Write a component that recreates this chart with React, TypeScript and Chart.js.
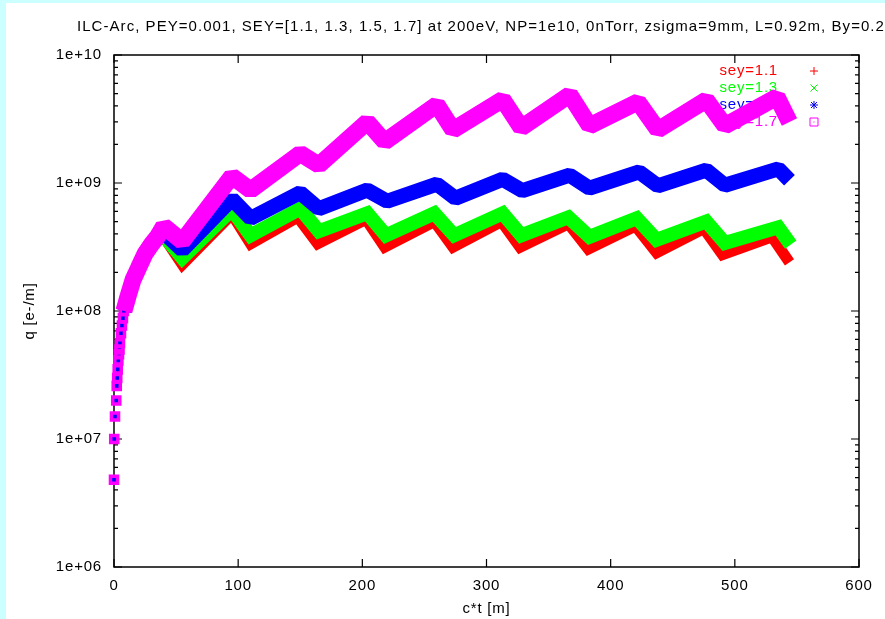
import React, { useEffect, useRef } from 'react';
import { Chart, registerables } from 'chart.js';

Chart.register(...registerables);

const TITLE = 'ILC-Arc, PEY=0.001, SEY=[1.1, 1.3, 1.5, 1.7] at 200eV, NP=1e10, 0nTorr, zsigma=9mm, L=0.92m, By=0.2';
const X_LABEL = 'c*t [m]';
const Y_LABEL = 'q [e-/m]';

const xTicks = [0, 100, 200, 300, 400, 500, 600];
const xTickLabels = ['0', '100', '200', '300', '400', '500', '600'];
const yTicks = [1e6, 1e7, 1e8, 1e9, 1e10];
const yTickLabels = ['1e+06', '1e+07', '1e+08', '1e+09', '1e+10'];

const seriesNames = ['sey=1.1', 'sey=1.3', 'sey=1.5', 'sey=1.7'];
const seriesColors = ['#ff0000', '#00ff00', '#0000ff', '#ff00ff'];

// shared build-up at the start (discrete markers up to markerUntil)
const markerUntil = 8;
const rampX = [0, 0.2, 0.8, 1.8, 2.2, 2.6, 3.0, 3.5, 4.0, 4.4, 4.8, 5.6, 6.4, 7.2, 8.0, 11.3, 15.3, 20, 25, 30, 35];
const rampQ = [4.8e6, 1.0e7, 1.5e7, 2.0e7, 2.6e7, 3.0e7, 3.5e7, 4.1e7, 4.6e7, 5.0e7, 5.6e7, 6.7e7, 7.7e7, 8.8e7, 1.0e8, 1.3e8, 1.75e8, 2.2e8, 2.8e8, 3.3e8, 3.8e8];

// sey = 1.1
const sey11X = [40, 55, 95, 110, 148, 164, 203, 218, 258, 273, 312, 327, 366, 382, 420, 437, 475, 490, 530, 544];
const sey11Q = [3.8e8, 2.3e8, 5.7e8, 3.35e8, 5.4e8, 3.35e8, 5.2e8, 3.15e8, 5.0e8, 3.15e8, 5.0e8, 3.15e8, 4.8e8, 3.05e8, 4.6e8, 2.85e8, 4.4e8, 2.75e8, 3.8e8, 2.4e8];
// sey = 1.3
const sey13X = [40, 55, 95, 110, 150, 165, 204, 219, 258, 274, 313, 328, 366, 383, 421, 437, 477, 492, 535, 545];
const sey13Q = [3.9e8, 2.6e8, 6.2e8, 3.9e8, 6.3e8, 4.2e8, 5.8e8, 3.9e8, 5.8e8, 3.9e8, 5.8e8, 3.9e8, 5.4e8, 3.8e8, 5.3e8, 3.6e8, 5.0e8, 3.4e8, 4.5e8, 3.3e8];
// sey = 1.5
const sey15X = [40, 55, 95, 110, 150, 165, 204, 220, 260, 275, 313, 329, 367, 383, 423, 438, 477, 492, 535, 544];
const sey15Q = [4.1e8, 3.0e8, 7.5e8, 5.3e8, 8.4e8, 6.3e8, 8.8e8, 7.2e8, 9.8e8, 7.6e8, 1.07e9, 8.7e8, 1.15e9, 9.1e8, 1.22e9, 9.5e8, 1.26e9, 9.6e8, 1.29e9, 1.05e9];
// sey = 1.7
const sey17X = [40, 55, 95, 110, 150, 165, 204, 218, 260, 273, 313, 328, 367, 383, 422, 438, 477, 492, 534, 544];
const sey17Q = [4.6e8, 3.5e8, 1.13e9, 8.8e8, 1.7e9, 1.38e9, 3.0e9, 2.1e9, 4.1e9, 2.6e9, 4.5e9, 2.7e9, 4.9e9, 2.8e9, 4.3e9, 2.6e9, 4.45e9, 2.8e9, 4.7e9, 3.0e9];

const seriesX = [sey11X, sey13X, sey15X, sey17X];
const seriesQ = [sey11Q, sey13Q, sey15Q, sey17Q];
const lineWidths = [11, 14, 15, 17];
const joins: any[] = ['miter', 'miter', 'bevel', 'bevel'];
const pointStyles: any[] = ['cross', 'crossRot', 'star', 'rect'];
const pointRadii = [4, 4, 3.5, 5];
const pointBorders = [1.5, 1.5, 1.5, 3.5];

const FONT = '"Liberation Sans", Arial, Helvetica, sans-serif';

function buildData(i: number) {
  const pts: { x: number; y: number }[] = [];
  rampX.forEach((x, k) => pts.push({ x, y: rampQ[k] }));
  seriesX[i].forEach((x, k) => pts.push({ x, y: seriesQ[i][k] }));
  return pts;
}

const gnuplotPlugin = {
  id: 'gnuplotLook',
  beforeDraw(chart: any) {
    chart.ctx.letterSpacing = '0.8px';
  },
  beforeDatasetsDraw(chart: any) {
    const ctx = chart.ctx;
    const ca = chart.chartArea;
    const xs = chart.scales.x;
    const ys = chart.scales.y;
    ctx.save();
    ctx.fillStyle = '#000';
    ctx.font = `15px ${FONT}`;
    // title
    ctx.letterSpacing = '1.05px';
    ctx.textAlign = 'left';
    ctx.textBaseline = 'middle';
    ctx.fillText(TITLE, 71, 24);
    ctx.letterSpacing = '0.8px';
    // x title
    ctx.textAlign = 'center';
    ctx.fillText(X_LABEL, (ca.left + ca.right) / 2, 606);
    // y title
    ctx.save();
    ctx.translate(24, (ca.top + ca.bottom) / 2);
    ctx.rotate(-Math.PI / 2);
    ctx.fillText(Y_LABEL, 0, 0);
    ctx.restore();

    // frame
    ctx.strokeStyle = '#000';
    ctx.lineWidth = 1.5;
    ctx.strokeRect(ca.left, ca.top, ca.right - ca.left, ca.bottom - ca.top);
    ctx.lineWidth = 1.2;
    ctx.beginPath();
    xTicks.forEach((v) => {
      const px = xs.getPixelForValue(v);
      ctx.moveTo(px, ca.bottom);
      ctx.lineTo(px, ca.bottom - 8);
      ctx.moveTo(px, ca.top);
      ctx.lineTo(px, ca.top + 8);
    });
    yTicks.forEach((v) => {
      const py = ys.getPixelForValue(v);
      ctx.moveTo(ca.left, py);
      ctx.lineTo(ca.left + 8, py);
      ctx.moveTo(ca.right, py);
      ctx.lineTo(ca.right - 8, py);
    });
    for (let d = 0; d < yTicks.length - 1; d++) {
      for (let m = 2; m <= 9; m++) {
        const py = ys.getPixelForValue(yTicks[d] * m);
        ctx.moveTo(ca.left, py);
        ctx.lineTo(ca.left + 4, py);
        ctx.moveTo(ca.right, py);
        ctx.lineTo(ca.right - 4, py);
      }
    }
    ctx.stroke();

    // legend (drawn under the data, like gnuplot)
    const textRight = 772;
    const symX = 808;
    const rowY = [68, 85, 102, 119];
    ctx.textAlign = 'right';
    seriesNames.forEach((name, i) => {
      ctx.fillStyle = seriesColors[i];
      ctx.fillText(name, textRight, rowY[i]);
      ctx.strokeStyle = seriesColors[i];
      ctx.lineWidth = 1;
      const y = rowY[i];
      const s = 4;
      ctx.beginPath();
      if (i === 0 || i === 2) {
        ctx.moveTo(symX - s, y); ctx.lineTo(symX + s, y);
        ctx.moveTo(symX, y - s); ctx.lineTo(symX, y + s);
      }
      if (i === 1 || i === 2) {
        const t = i === 2 ? 3 : 3.5;
        ctx.moveTo(symX - t, y - t); ctx.lineTo(symX + t, y + t);
        ctx.moveTo(symX - t, y + t); ctx.lineTo(symX + t, y - t);
      }
      if (i === 3) {
        ctx.rect(symX - 4, y - 4, 8, 8);
        ctx.moveTo(symX - 0.5, y); ctx.lineTo(symX + 0.5, y);
      }
      ctx.stroke();
    });
    ctx.restore();
  },
};

export default function App() {
  const canvasRef = useRef<HTMLCanvasElement | null>(null);

  useEffect(() => {
    document.body.style.margin = '0';
    const canvas = canvasRef.current;
    if (!canvas) return;
    Chart.defaults.font.family = FONT;
    Chart.defaults.font.size = 15;
    Chart.defaults.color = '#000';

    const datasets = seriesNames.map((name, i) => ({
      label: name,
      data: buildData(i),
      order: seriesNames.length - i, // later series drawn on top, as in gnuplot
      showLine: true,
      borderColor: seriesColors[i],
      backgroundColor: 'rgba(0,0,0,0)',
      borderWidth: lineWidths[i],
      borderJoinStyle: joins[i],
      borderCapStyle: 'butt',
      pointStyle: pointStyles[i],
      pointBorderColor: seriesColors[i],
      pointBackgroundColor: 'rgba(0,0,0,0)',
      pointBorderWidth: pointBorders[i],
      pointRadius: (c: any) => (c.raw && c.raw.x <= markerUntil ? pointRadii[i] : 0),
      pointHoverRadius: 0,
      tension: 0,
      clip: false as any,
      segment: {
        borderColor: (c: any) => (c.p1.parsed.x <= markerUntil ? 'rgba(0,0,0,0)' : undefined),
      },
    }));

    const chart = new Chart(canvas, {
      type: 'scatter',
      data: { datasets: datasets as any },
      options: {
        animation: false,
        responsive: false,
        devicePixelRatio: 1,
        events: [],
        layout: { padding: { left: 0, right: 26, top: 52, bottom: 0 } },
        plugins: { legend: { display: false }, tooltip: { enabled: false }, title: { display: false } },
        scales: {
          x: {
            type: 'linear',
            min: 0,
            max: 600,
            grid: { display: false, drawTicks: false },
            border: { display: false },
            afterBuildTicks: (s: any) => { s.ticks = xTicks.map((v) => ({ value: v })); },
            afterFit: (s: any) => { s.height = 52; },
            ticks: {
              autoSkip: false,
              maxRotation: 0,
              padding: 10,
              font: { size: 15 },
              callback: (v: any) => xTickLabels[xTicks.indexOf(Number(v))],
            },
          },
          y: {
            type: 'logarithmic',
            min: 1e6,
            max: 1e10,
            grid: { display: false, drawTicks: false },
            border: { display: false },
            afterBuildTicks: (s: any) => { s.ticks = yTicks.map((v) => ({ value: v })); },
            afterFit: (s: any) => { s.width = 108; },
            ticks: {
              autoSkip: false,
              padding: 12,
              font: { size: 15 },
              callback: (v: any) => {
                const k = yTicks.findIndex((t) => Math.abs(Math.log10(t) - Math.log10(Number(v))) < 1e-6);
                return k >= 0 ? yTickLabels[k] : '';
              },
            },
          },
        },
      },
      plugins: [gnuplotPlugin],
    });
    return () => chart.destroy();
  }, []);

  return (
    <div style={{ position: 'relative', width: 885, height: 619, background: '#ccffff', overflow: 'hidden' }}>
      <canvas
        ref={canvasRef}
        width={879}
        height={616}
        style={{ position: 'absolute', left: 6, top: 3, width: 879, height: 616, background: '#ffffff' }}
      />
    </div>
  );
}
